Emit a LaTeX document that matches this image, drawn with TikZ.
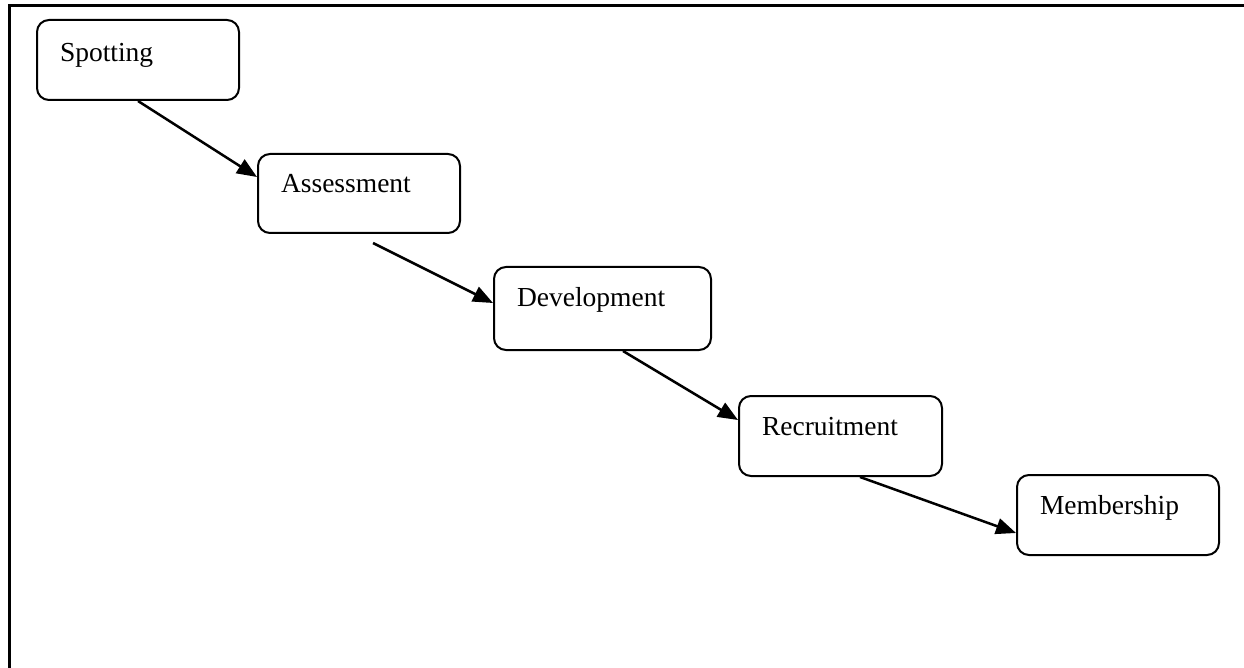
\documentclass[tikz,border=0pt]{standalone}
\usepackage{fontspec}
\setmainfont{Liberation Serif}
\usetikzlibrary{arrows.meta}
\begin{document}
\begin{tikzpicture}[x=1pt,y=-1pt,
  stepbox/.style={draw, line width=2pt, rounded corners=12pt, inner sep=0pt,
    anchor=north west, align=left, text width=202pt,
    font=\fontsize{27.5}{30}\selectfont,
    text height=40pt, text depth=40pt,
    execute at begin node={\hspace*{23pt}}},
  flow/.style={line width=2.5pt, -{Triangle[length=20pt,width=16pt]}}]
\useasboundingbox (0,0) rectangle (1244,668);
% page frame (top and left edges)
\draw[line width=3pt] (9,668) -- (9,6) -- (1244,6);
% stages
\node[stepbox, text height=42pt, text depth=38pt] (spot) at (36,19) {Spotting};
\node[stepbox, text height=39pt, text depth=40pt] (assess) at (257,153) {Assessment};
\node[stepbox, text width=217pt, text height=39pt, text depth=44pt] (dev) at (493,266) {Development};
\node[stepbox, text width=203pt, text height=39pt, text depth=41pt] (rec) at (738,395) {Recruitment};
\node[stepbox, text height=39pt, text depth=41pt] (mem) at (1016,474) {Membership};
% flow arrows
\draw[flow] ([xshift=102pt]spot.south west) -- ([yshift=-24pt]assess.north west);
\draw[flow] ([xshift=116pt,yshift=-9pt]assess.south west) -- ([yshift=-37pt]dev.north west);
\draw[flow] ([xshift=130pt]dev.south west) -- ([yshift=-25pt]rec.north west);
\draw[flow] ([xshift=122pt]rec.south west) -- ([yshift=-59pt]mem.north west);
\end{tikzpicture}
\end{document}
